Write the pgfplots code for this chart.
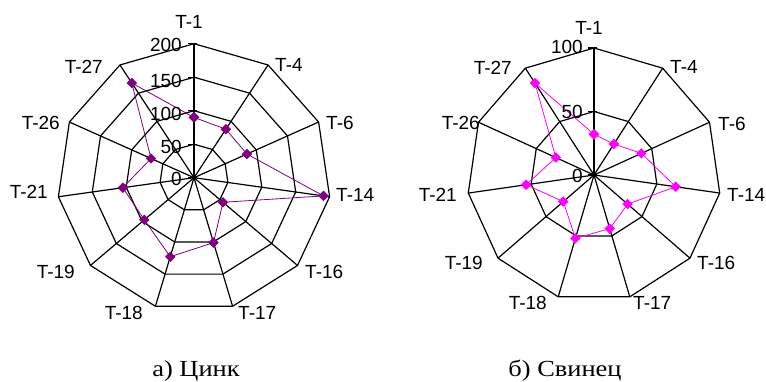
\documentclass[border=0pt]{standalone}
\usepackage{fontspec}
\setmainfont{Liberation Sans}
\newfontfamily\capfont{Liberation Serif}
\usepackage{pgfplots}
\usepackage{pgfplotstable}
\pgfplotsset{compat=1.18}
\definecolor{zinc}{RGB}{128,0,128}
\definecolor{lead}{RGB}{255,0,255}
\pgfplotsset{gridl/.style={black, line width=1.2pt, mark=none, forget plot}}
\newcommand\ring[1]{\addplot[gridl, data cs=polar] coordinates {(90,#1)(57.2727,#1)(24.5455,#1)(-8.1818,#1)(-40.9091,#1)(-73.6364,#1)(-106.3636,#1)(-139.0909,#1)(-171.8182,#1)(-204.5455,#1)(-237.2727,#1)(-270,#1)};}
\newcommand\spokes[1]{\pgfplotsinvokeforeach{90,57.2727,24.5455,-8.1818,-40.9091,-73.6364,-106.3636,-139.0909,-171.8182,-204.5455,-237.2727}{\addplot[gridl, data cs=polar] coordinates {(##1,0)(##1,#1)};}}
% angle (T-1 at top, clockwise), zinc, lead
\pgfplotstableread{
name angle zinc lead
T-1 90 90 32
T-4 57.2727 86 29
T-6 24.5455 85 41
T-14 -8.1818 191 65
T-16 -40.9091 56 35
T-17 -73.6364 101 44
T-18 -106.3636 123 52
T-19 -139.0909 96 32
T-21 -171.8182 105 54
T-26 -204.5455 69 33
T-27 -237.2727 168 86
T-1 -270 90 32
}\datatable
\newcommand\lab{\fontsize{19}{21}\selectfont}
\begin{document}
\begin{tikzpicture}[x=1pt,y=1pt]
\path[use as bounding box] (0,0) rectangle (766,-382);
% ---------- left: zinc ----------
\begin{axis}[at={(194pt,-177.7pt)}, anchor=center, scale only axis,
  width=342.5pt, height=335pt, xmin=-250, xmax=250, ymin=-250, ymax=250,
  hide axis, clip=false]
\ring{50}\ring{100}\ring{150}\ring{200}
\spokes{200}
\foreach \r in {0,50,100,150,200}{\edef\tmp{\noexpand\draw[black, line width=1.2pt] (axis cs:-9,\r) -- (axis cs:4,\r);}\tmp}
\addplot[zinc, line width=0.8pt, data cs=polar, mark=square*, mark size=3.3pt, mark options={rotate=45, solid, fill=zinc}] table[x=angle, y=zinc] {\datatable};
\end{axis}
% ---------- right: lead ----------
\begin{axis}[at={(594pt,-175pt)}, anchor=center, scale only axis,
  width=317.5pt, height=317.5pt, xmin=-125, xmax=125, ymin=-125, ymax=125,
  hide axis, clip=false]
\ring{50}\ring{100}
\spokes{100}
\foreach \r in {0,50,100}{\edef\tmp{\noexpand\draw[black, line width=1.2pt] (axis cs:-5,\r) -- (axis cs:2,\r);}\tmp}
\addplot[lead, line width=0.8pt, data cs=polar, mark=square*, mark size=3.3pt, mark options={rotate=45, solid, fill=lead}] table[x=angle, y=lead] {\datatable};
\end{axis}
% ---------- category labels ----------
\begin{scope}[every node/.style={inner sep=0pt, font=\lab}]
\node[anchor=base] at (189,-29) {T-1};
\node[anchor=base west] at (275,-72) {T-4};
\node[anchor=base west] at (326,-130) {T-6};
\node[anchor=base west] at (336,-202) {T-14};
\node[anchor=base west] at (305,-279) {T-16};
\node[anchor=base west] at (238,-319) {T-17};
\node[anchor=base east] at (143,-319) {T-18};
\node[anchor=base east] at (75,-279) {T-19};
\node[anchor=base east] at (48,-199) {T-21};
\node[anchor=base east] at (60,-130) {T-26};
\node[anchor=base east] at (103,-73.5) {T-27};
\node[anchor=base east] at (182,-52) {200};
\node[anchor=base east] at (182,-88) {150};
\node[anchor=base east] at (182,-121) {100};
\node[anchor=base east] at (182,-154) {50};
\node[anchor=base east] at (182,-186) {0};
%
\node[anchor=base] at (589,-34.5) {T-1};
\node[anchor=base west] at (670,-73.5) {T-4};
\node[anchor=base west] at (718,-130.5) {T-6};
\node[anchor=base west] at (727,-201.5) {T-14};
\node[anchor=base west] at (697,-269.5) {T-16};
\node[anchor=base west] at (633,-309.5) {T-17};
\node[anchor=base east] at (547,-309.5) {T-18};
\node[anchor=base east] at (483,-269.5) {T-19};
\node[anchor=base east] at (457,-201.5) {T-21};
\node[anchor=base east] at (480,-129.5) {T-26};
\node[anchor=base east] at (512,-74.5) {T-27};
\node[anchor=base east] at (583,-54) {100};
\node[anchor=base east] at (583,-119) {50};
\node[anchor=base east] at (583,-183) {0};
\end{scope}
% ---------- captions ----------
\node[anchor=base, inner sep=0pt, xscale=1.15, font=\capfont\fontsize{23}{27}\selectfont] at (196,-376) {а) Цинк};
\node[anchor=base, inner sep=0pt, xscale=1.15, font=\capfont\fontsize{23}{27}\selectfont] at (565,-376) {б) Свинец};
\end{tikzpicture}
\end{document}
